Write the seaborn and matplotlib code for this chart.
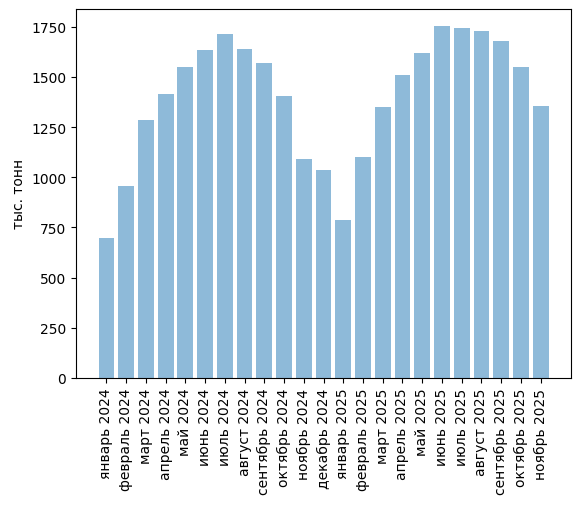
import matplotlib
matplotlib.use("Agg")
import matplotlib.pyplot as plt
import seaborn as sns
import pandas as pd

months = ["январь 2024", "февраль 2024", "март 2024", "апрель 2024", "май 2024",
          "июнь 2024", "июль 2024", "август 2024", "сентябрь 2024", "октябрь 2024",
          "ноябрь 2024", "декабрь 2024", "январь 2025", "февраль 2025", "март 2025",
          "апрель 2025", "май 2025", "июнь 2025", "июль 2025", "август 2025",
          "сентябрь 2025", "октябрь 2025", "ноябрь 2025"]
values = [698, 957, 1286, 1416, 1550, 1635, 1713, 1640, 1570, 1406, 1092, 1037,
          788, 1100, 1350, 1508, 1620, 1753, 1745, 1728, 1680, 1550, 1355]

df = pd.DataFrame({"month": months, "value": values})

plt.rcParams['font.family'] = ['DejaVu Sans']
fig = plt.figure(figsize=(5.8, 5.06), dpi=100)
ax = fig.add_axes([76/580, 1-379/506, (571-76)/580, (379-9.5)/506])
sns.barplot(data=df, x="month", y="value", color="#1f77b4", saturation=1,
            alpha=0.5, width=0.8, ax=ax)
n = len(months)
span = (n - 1) + 0.8
ax.set_xlim(-0.4 - 0.05 * span, n - 1 + 0.4 + 0.05 * span)
ax.set_ylim(0, max(values) * 1.05)
ax.set_xlabel("")
ax.set_ylabel("тыс. тонн")
ax.tick_params(axis="x", rotation=90)
fig.savefig("out.png", dpi=100)
